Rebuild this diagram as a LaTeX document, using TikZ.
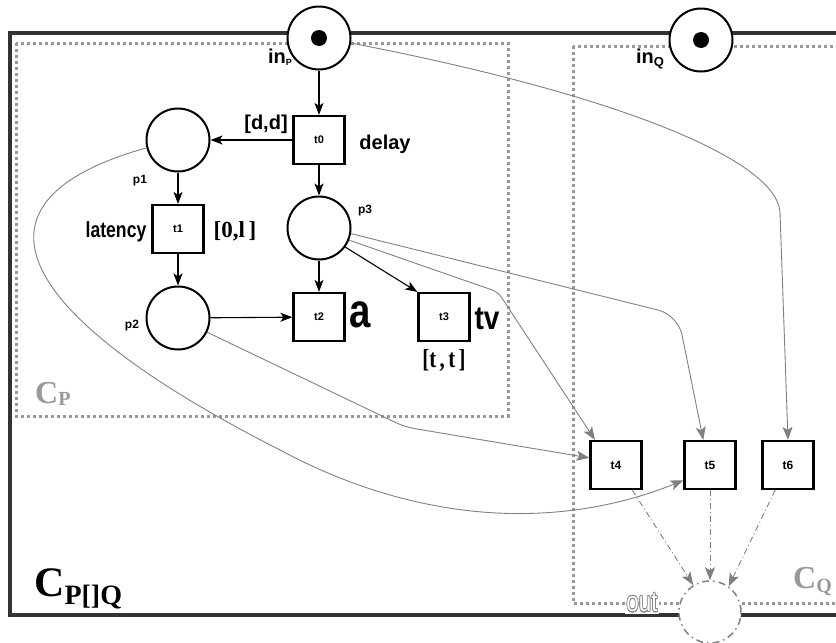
\documentclass[tikz,border=0pt]{standalone}
\usepackage{fontspec}
\setmainfont{Liberation Serif}
\setsansfont{Liberation Sans}
\usepackage{contour}
\contourlength{0.7pt}
\usetikzlibrary{arrows.meta}
\definecolor{Region}{gray}{0.6}
\definecolor{Wire}{gray}{0.5}

\begin{document}
\begin{tikzpicture}[x=1pt,y=-1pt,
    place/.style={circle,draw,line width=2pt,fill=white,minimum size=63pt,inner sep=0pt},
    trans/.style={draw,line width=2.2pt,fill=white,minimum width=51pt,minimum height=48pt,inner sep=0pt,
      font=\sffamily\bfseries\fontsize{11}{11}\selectfont},
    token/.style={circle,fill=black,minimum size=16pt,inner sep=0pt},
    lbl/.style={inner sep=0pt,font=\sffamily\bfseries\fontsize{20}{20}\selectfont},
    plbl/.style={inner sep=0pt,font=\sffamily\bfseries\fontsize{12}{12}\selectfont},
    slbl/.style={inner sep=0pt,font=\rmfamily\bfseries\fontsize{23}{23}\selectfont},
    region/.style={draw=Region,line width=3pt,dash pattern=on 3pt off 3pt},
    arc/.style={-{Stealth[length=12pt,width=9pt,inset=3pt]},line width=1.1pt},
    garc/.style={-{Stealth[length=13pt,width=10pt,inset=3pt]},draw=Wire,line width=0.9pt},
    darc/.style={garc,dash pattern=on 6pt off 3pt on 1pt off 3pt}]
  \useasboundingbox (0,0) rectangle (836,643);
  % composite and components
  \draw[line width=3.2pt,black!80] (10,33) rectangle (860,615);
  \draw[region] (16,43) rectangle (508,416);
  \draw[region] (573,46) rectangle (860,603);
  \node[anchor=base west,inner sep=0pt,text=Region,font=\rmfamily\bfseries] (cp) at (35,403)
    {\fontsize{32}{32}\selectfont C\raisebox{-2pt}{\fontsize{20}{20}\selectfont P}};
  \node[anchor=base west,inner sep=0pt,text=Region,font=\rmfamily\bfseries] (cq) at (793,588)
    {\fontsize{32}{32}\selectfont C\raisebox{-4pt}{\fontsize{20}{20}\selectfont Q}};
  \node[anchor=base west,inner sep=0pt,font=\rmfamily\bfseries] (cpq) at (34,596)
    {\fontsize{42}{42}\selectfont C\raisebox{-8pt}{\fontsize{28}{28}\selectfont P[]Q}};
  % places and transitions
  \node[place] (inP) at (319,38) {};
  \node[place] (inQ) at (701,40) {};
  \node[token] (tokP) at (inP) {};
  \node[token] (tokQ) at (inQ) {};
  \node[place] (p1) at (178,140) {};
  \node[place] (p2) at (178,318) {};
  \node[place] (p3) at (319,228) {};
  \node[trans] (t0) at (319,140) {t0};
  \node[trans] (t1) at (178,229) {t1};
  \node[trans] (t2) at (319,317) {t2};
  \node[trans] (t3) at (444,317) {t3};
  \node[trans,font=\sffamily\bfseries\fontsize{12}{12}\selectfont] (t4) at (616,465) {t4};
  \node[trans,font=\sffamily\bfseries\fontsize{12}{12}\selectfont] (t5) at (710,465) {t5};
  \node[trans,font=\sffamily\bfseries\fontsize{12}{12}\selectfont] (t6) at (788,465) {t6};
  \node[circle,fill=white,draw=Wire,line width=1.5pt,minimum size=62pt,
    dash pattern=on 7pt off 4pt on 1.5pt off 4pt] (out) at (710,612) {};
  \node[fill=white,inner sep=1pt,font=\sffamily\fontsize{28}{28}\selectfont] (lOut) at (642,603)
    {\scalebox{0.8}[1]{\contour{Wire}{\textcolor{white}{out}}}};
  % labels
  \node[inner sep=0pt,font=\sffamily\bfseries] (lInP) at (280,57)
    {\fontsize{20}{20}\selectfont in\raisebox{-2pt}{\fontsize{9}{9}\selectfont P}};
  \node[inner sep=0pt,font=\sffamily\bfseries] (lInQ) at (650,59)
    {\fontsize{20}{20}\selectfont in\raisebox{-3pt}{\fontsize{13}{13}\selectfont Q}};
  \node[lbl] (lDD) at (266,124) {[d,d]};
  \node[lbl] (lDelay) at (385,144) {delay};
  \node[lbl,font=\sffamily\bfseries\fontsize{22}{22}\selectfont] (lLat) at (116,232)
    {\scalebox{0.8}[1]{latency}};
  \node[slbl] (l0l) at (235,231) {[0,l\,]};
  \node[inner sep=0pt,font=\sffamily\bfseries\fontsize{48}{48}\selectfont] (lA) at (360,315)
    {\scalebox{0.8}[1]{a}};
  \node[inner sep=0pt,font=\sffamily\bfseries\fontsize{33}{33}\selectfont] (lTv) at (487,319)
    {\scalebox{0.85}[1]{tv}};
  \node[slbl,font=\rmfamily\bfseries\fontsize{26}{26}\selectfont] (lTT) at (444,360)
    {\scalebox{0.8}[1]{[t\,,\,t\,]}};
  \node[plbl] (lp1) at (140,181) {p1};
  \node[plbl] (lp2) at (132,326) {p2};
  \node[plbl] (lp3) at (365,211) {p3};
  % arcs inside P
  \draw[arc] (inP) -- (t0);
  \draw[arc] (t0) -- (p1);
  \draw[arc] (t0) -- (p3);
  \draw[arc] (p1) -- (t1);
  \draw[arc] (t1) -- (p2);
  \draw[arc] (p2) -- (t2);
  \draw[arc] (p3) -- (t2);
  \draw[arc] (p3.-36) -- (t3.north west);
  % arcs to the choice transitions
  \draw[garc] (inP.-9) .. controls (620,95) and (776,160) .. (780,212) -- (t6.north);
  \draw[garc,rounded corners=20pt] (p3.-10) -- (678,315) -- (t5.105);
  \draw[garc,rounded corners=6pt] (p3.-22) -- (498,292) -- (t4.130);
  \draw[garc,rounded corners=10pt] (p2.-26) -- (405,427) -- (t4.165);
  \draw[garc] (p1.194) .. controls (-40,200) and (5,310) .. (280,450)
    .. controls (420,525) and (560,530) .. (t5.210);
  \draw[darc] (t4.-57) -- (out.122);
  \draw[darc] (t5) -- (out);
  \draw[darc] (t6.-117) -- (out.54);
\end{tikzpicture}
\end{document}
